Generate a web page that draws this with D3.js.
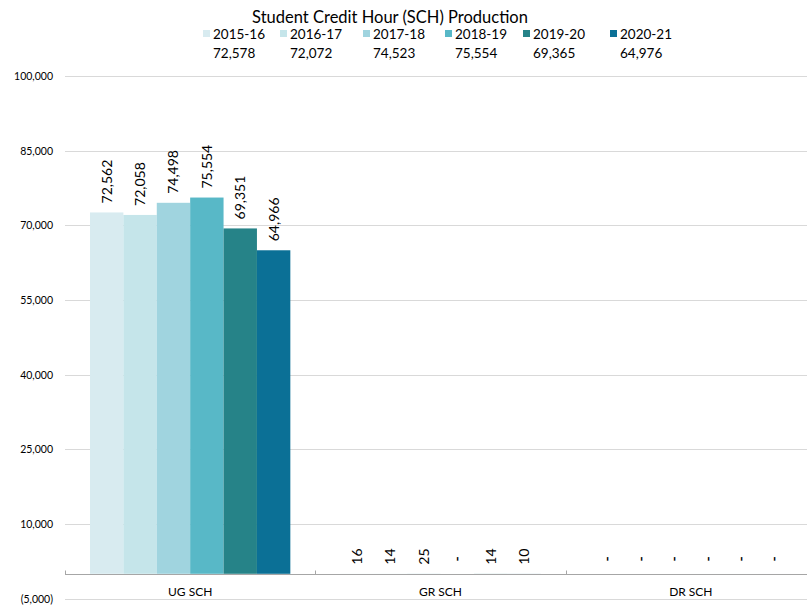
<!DOCTYPE html>
<html><head><meta charset="utf-8">
<script src="https://cdn.jsdelivr.net/npm/d3@7"></script>
<style>body{margin:0;background:#fff}svg{display:block}text{font-family:Lato,"Open Sans",sans-serif;fill:#000}</style>
</head><body><svg id="c" width="807" height="607"></svg>
<script>
const categories = ["UG SCH","GR SCH","DR SCH"];
const years = ["2015-16","2016-17","2017-18","2018-19","2019-20","2020-21"];
const totals = ["72,578","72,072","74,523","75,554","69,365","64,976"];
const ug = [72562,72058,74498,75554,69351,64966];
const gr = [16,14,25,0,14,10];
const dr = [0,0,0,0,0,0];
const yTicks = [-5000,10000,25000,40000,55000,70000,85000,100000];
const colors = ["#d8ebf0","#c5e5ea","#a0d4df","#58b8c7","#268388","#0b7096"];

const series = [ug, gr, dr];
const svg = d3.select("#c");
const y = d3.scaleLinear().domain([-5000,100000]).range([598.7,75.8]);
const x0 = d3.scaleBand().domain(categories).range([65,816]).padding(0);
const x1 = d3.scaleBand().domain(years).range([25, x0.bandwidth()-25]).padding(0);

// gridlines
const fmt = v => v < 0 ? "(" + d3.format(",")(-v) + ")" : d3.format(",")(v);
svg.append("g").selectAll("line").data(yTicks).join("line")
  .attr("x1",65).attr("x2",807).attr("y1",d=>Math.round(y(d))+0.5).attr("y2",d=>Math.round(y(d))+0.5)
  .attr("stroke","#d9d9d9").attr("stroke-width",1);
svg.append("g").selectAll("text").data(yTicks).join("text")
  .attr("x",53).attr("y",d=>y(d)+4).attr("text-anchor","end")
  .style("font-size","10.5px").text(fmt);

// bars
const g = svg.append("g");
categories.forEach((c,ci)=>{
  const vals = series[ci];
  g.append("g").selectAll("rect").data(vals).join("rect")
    .attr("x",(d,i)=>x0(c)+x1(years[i]))
    .attr("width",x1.bandwidth())
    .attr("y",d=>y(Math.max(d,0)))
    .attr("height",d=>Math.max(Math.abs(y(d)-y(0)),0.01))
    .attr("fill",(d,i)=>colors[i]);
  g.append("g").selectAll("text").data(vals).join("text")
    .attr("transform",(d,i)=>{
      const cx = x0(c)+x1(years[i])+x1.bandwidth()/2 + 5;
      const cy = y(Math.max(d,0)) - 9;
      return `translate(${cx},${cy}) rotate(-90)`;
    })
    .attr("text-anchor",d=>d===0?"middle":"start")
    .attr("dx",d=>d===0?"6":"0")
    .style("font-size","14px")
    .style("font-weight",d=>d===0?"bold":"normal")
    .text(d=>d===0?"-":d3.format(",")(d));
});

// axis line and ticks
const ay = Math.round(y(0))+0.5;
svg.append("line").attr("x1",65).attr("x2",807).attr("y1",ay).attr("y2",ay).attr("stroke","#a6a6a6");
svg.append("g").selectAll("line").data(categories).join("line")
  .attr("x1",d=>Math.round(x0(d))+0.5).attr("x2",d=>Math.round(x0(d))+0.5)
  .attr("y1",ay-4).attr("y2",ay).attr("stroke","#a6a6a6");
svg.append("g").selectAll("text").data(categories).join("text")
  .attr("x",d=>x0(d)+x0.bandwidth()/2).attr("y",596).attr("text-anchor","middle")
  .style("font-size","12px").text(d=>d);

// title
svg.append("text").attr("x",390).attr("y",23).attr("text-anchor","middle")
  .style("font-size","16.5px").text("Student Credit Hour (SCH) Production");

// legend
const lx = [203,280,363,445,523,610];
const lg = svg.append("g");
years.forEach((yr,i)=>{
  lg.append("rect").attr("x",lx[i]).attr("y",30).attr("width",7).attr("height",7).attr("fill",colors[i]);
  lg.append("text").attr("x",lx[i]+10).attr("y",39).style("font-size","13.5px").text(yr);
  lg.append("text").attr("x",lx[i]+10).attr("y",58).style("font-size","13.5px").text(totals[i]);
});
</script></body></html>
